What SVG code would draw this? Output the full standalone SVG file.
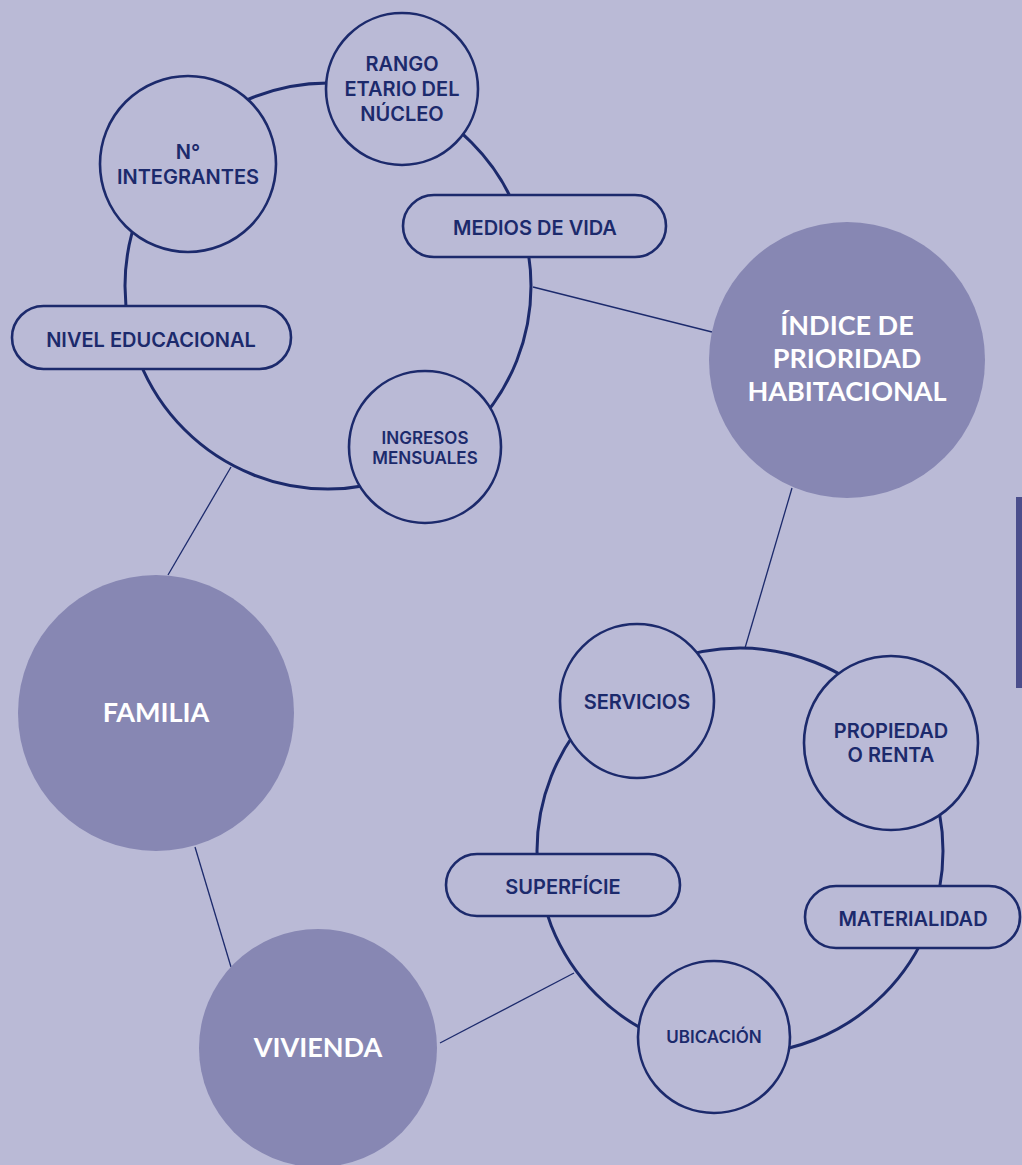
<svg xmlns="http://www.w3.org/2000/svg" width="1022" height="1165" viewBox="0 0 1022 1165">
  <style>
    .ring { fill: none; stroke: #1c2a6c; stroke-width: 3; }
    .link { fill: none; stroke: #1c2a6c; stroke-width: 1.3; }
    .node { fill: #babad6; stroke: #1c2a6c; stroke-width: 2.6; }
    .hub { fill: #8787b3; stroke: none; }
    .lbl { font-family: Inter, "Liberation Sans", sans-serif; font-weight: 600; fill: #1c2a6c; text-anchor: middle; font-size: 20px; }
    .lbl.sm { font-size: 17px; }
    .big { font-family: Lato, "Liberation Sans", sans-serif; font-weight: 700; fill: #ffffff; text-anchor: middle; font-size: 27px; }
  </style>

  <rect width="1022" height="1165" fill="#babad6"/>
  <!-- accent bar on the right edge -->
  <rect x="1016" y="497" width="6" height="191" fill="#4b4e8c"/>

  <!-- connectors and the two orbit rings -->
  <g id="connectors">
    <circle class="ring" cx="328" cy="286" r="203"/>
    <circle class="ring" cx="740" cy="851" r="203"/>
    <line class="link" x1="533" y1="287" x2="712" y2="332"/>
    <line class="link" x1="792" y1="488" x2="745" y2="648"/>
    <line class="link" x1="231" y1="467" x2="168" y2="575"/>
    <line class="link" x1="195" y1="847" x2="231" y2="967"/>
    <line class="link" x1="440" y1="1043" x2="574" y2="973"/>
  </g>

  <!-- family cluster -->
  <g id="n-integrantes">
    <circle class="node" cx="188" cy="164" r="88"/>
    <text class="lbl" x="188" y="159">N°</text>
    <text class="lbl" x="188" y="184">INTEGRANTES</text>
  </g>
  <g id="rango-etario">
    <circle class="node" cx="402" cy="89" r="76"/>
    <text class="lbl" x="402" y="71">RANGO</text>
    <text class="lbl" x="402" y="96">ETARIO DEL</text>
    <text class="lbl" x="402" y="121">NÚCLEO</text>
  </g>
  <g id="medios-de-vida">
    <rect class="node" x="403" y="195" width="263" height="62" rx="31"/>
    <text class="lbl" x="535" y="235">MEDIOS DE VIDA</text>
  </g>
  <g id="nivel-educacional">
    <rect class="node" x="12" y="306" width="279" height="63" rx="31.5"/>
    <text class="lbl" x="151" y="347">NIVEL EDUCACIONAL</text>
  </g>
  <g id="ingresos-mensuales">
    <circle class="node" cx="425" cy="447" r="76"/>
    <text class="lbl sm" x="425" y="444">INGRESOS</text>
    <text class="lbl sm" x="425" y="464">MENSUALES</text>
  </g>

  <!-- hubs -->
  <g id="indice">
    <circle class="hub" cx="847" cy="360" r="138"/>
    <text class="big" x="847" y="335">ÍNDICE DE</text>
    <text class="big" x="847" y="368">PRIORIDAD</text>
    <text class="big" x="847" y="401">HABITACIONAL</text>
  </g>
  <g id="familia">
    <circle class="hub" cx="156" cy="713" r="138"/>
    <text class="big" x="156" y="722">FAMILIA</text>
  </g>
  <g id="vivienda">
    <circle class="hub" cx="318" cy="1048" r="119"/>
    <text class="big" x="318" y="1057">VIVIENDA</text>
  </g>

  <!-- housing cluster -->
  <g id="servicios">
    <circle class="node" cx="637" cy="701" r="77"/>
    <text class="lbl" x="637" y="709">SERVICIOS</text>
  </g>
  <g id="propiedad">
    <circle class="node" cx="891" cy="743" r="87"/>
    <text class="lbl" x="891" y="738">PROPIEDAD</text>
    <text class="lbl" x="891" y="762">O RENTA</text>
  </g>
  <g id="superficie">
    <rect class="node" x="446" y="854" width="234" height="62" rx="31"/>
    <text class="lbl" x="563" y="894">SUPERFÍCIE</text>
  </g>
  <g id="materialidad">
    <rect class="node" x="805" y="886" width="215" height="62" rx="31"/>
    <text class="lbl" x="913" y="926">MATERIALIDAD</text>
  </g>
  <g id="ubicacion">
    <circle class="node" cx="714" cy="1037" r="76"/>
    <text class="lbl sm" x="714" y="1043">UBICACIÓN</text>
  </g>
</svg>
